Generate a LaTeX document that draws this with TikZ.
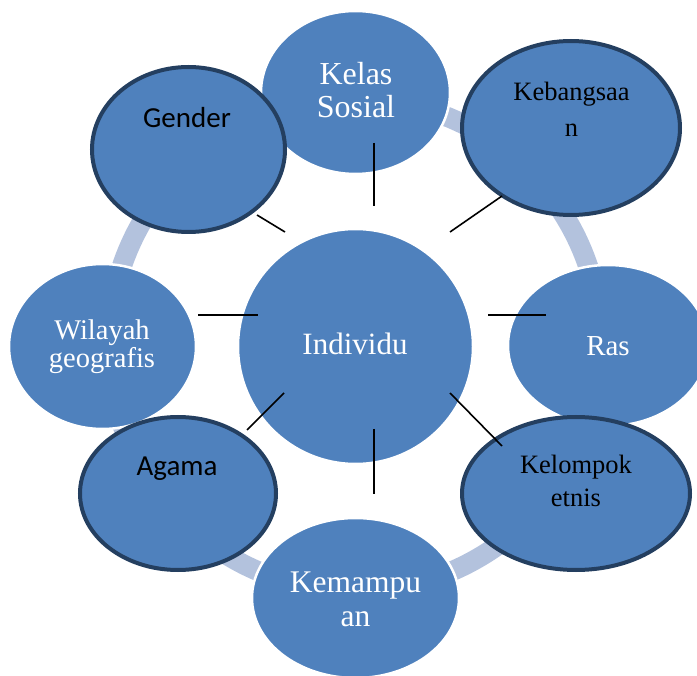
\documentclass[tikz,border=0pt]{standalone}
\usepackage{fontspec}
\setmainfont{Liberation Serif}
\newfontfamily\calib{Carlito}
\usetikzlibrary{shapes.geometric}

\definecolor{fillblue}{HTML}{4F81BD}
\definecolor{darkrim}{HTML}{243F60}
\definecolor{ringblue}{HTML}{B3C2DD}

\tikzset{
  blob/.style={ellipse, fill=fillblue, draw=white, line width=2.5pt, inner sep=0pt},
  darkblob/.style={blob, draw=darkrim, line width=4pt},
  wlabel/.style={text=white, align=center, anchor=base, inner sep=0pt},
  blabel/.style={text=black, align=center, anchor=base, inner sep=0pt},
  spoke/.style={line width=1.6pt},
}

\begin{document}
\begin{tikzpicture}[x=1pt,y=-1pt]

\useasboundingbox (0,0) rectangle (697,676);
\clip (0,0) rectangle (697,676);

\draw[ringblue, line width=20pt] (355,345) circle (246pt);

\node[blob, minimum width=189pt, minimum height=163pt] (kelas) at (355.5,92.5) {};
\node[darkblob, minimum width=218pt, minimum height=174pt] (bangsa) at (571,128) {};
\node[blob, minimum width=200pt, minimum height=161pt] (ras) at (608,345.5) {};
\node[blob, minimum width=187pt, minimum height=165pt] (wilayah) at (102.5,346.5) {};
\node[blob, minimum width=207pt, minimum height=160pt] (mampu) at (355.5,598) {};
\node[darkblob, minimum width=193pt, minimum height=165pt] (gender) at (188.5,149.5) {};
\node[darkblob, minimum width=196pt, minimum height=153pt] (agama) at (178,493.5) {};
\node[darkblob, minimum width=228pt, minimum height=153pt] (etnis) at (576,493.5) {};
\node[blob, minimum width=235pt, minimum height=235pt] (indiv) at (355.5,346.5) {};

% texts (base = last line)
\node[wlabel, font=\fontsize{32}{33}\selectfont] (tkelas) at (356,118) {Kelas\\Sosial};
\node[blabel, font=\fontsize{26.5}{36}\selectfont] (tbangsa) at (571.5,137) {Kebangsaa\\n};
\node[blabel, font=\calib\fontsize{29}{33}\selectfont] (tgender) at (187,128) {Gender};
\node[wlabel, font=\fontsize{31}{34}\selectfont] (tindiv) at (355,355) {Individu};
\node[wlabel, font=\fontsize{29}{33}\selectfont] (tras) at (608,356) {Ras};
\node[wlabel, font=\fontsize{28.5}{28}\selectfont] (twilayah) at (102,368) {Wilayah\\geografis};
\node[blabel, font=\calib\fontsize{29}{33}\selectfont] (tagama) at (177,476) {Agama};
\node[blabel, font=\fontsize{26.5}{33}\selectfont] (tetnis) at (576,507) {Kelompok\\etnis};
\node[wlabel, font=\fontsize{31.5}{34}\selectfont] (tmampu) at (355.5,626) {Kemampu\\an};

% spokes
\coordinate (k1) at (374,143);  \coordinate (k2) at (374,206);
\coordinate (g1) at (257,215);  \coordinate (g2) at (285,232);
\coordinate (b1) at (450,232);  \coordinate (b2) at (502,196);
\coordinate (w1) at (198,315);  \coordinate (w2) at (258,315);
\coordinate (r1) at (488,315);  \coordinate (r2) at (546,315);
\coordinate (a1) at (247,430);  \coordinate (a2) at (284,393);
\coordinate (e1) at (450,393);  \coordinate (e2) at (502,446);
\coordinate (m1) at (374,429);  \coordinate (m2) at (374,494);

\draw[spoke] (k1) -- (k2);
\draw[spoke] (g1) -- (g2);
\draw[spoke] (b1) -- (b2);
\draw[spoke] (w1) -- (w2);
\draw[spoke] (r1) -- (r2);
\draw[spoke] (a1) -- (a2);
\draw[spoke] (e1) -- (e2);
\draw[spoke] (m1) -- (m2);

\end{tikzpicture}
\end{document}
